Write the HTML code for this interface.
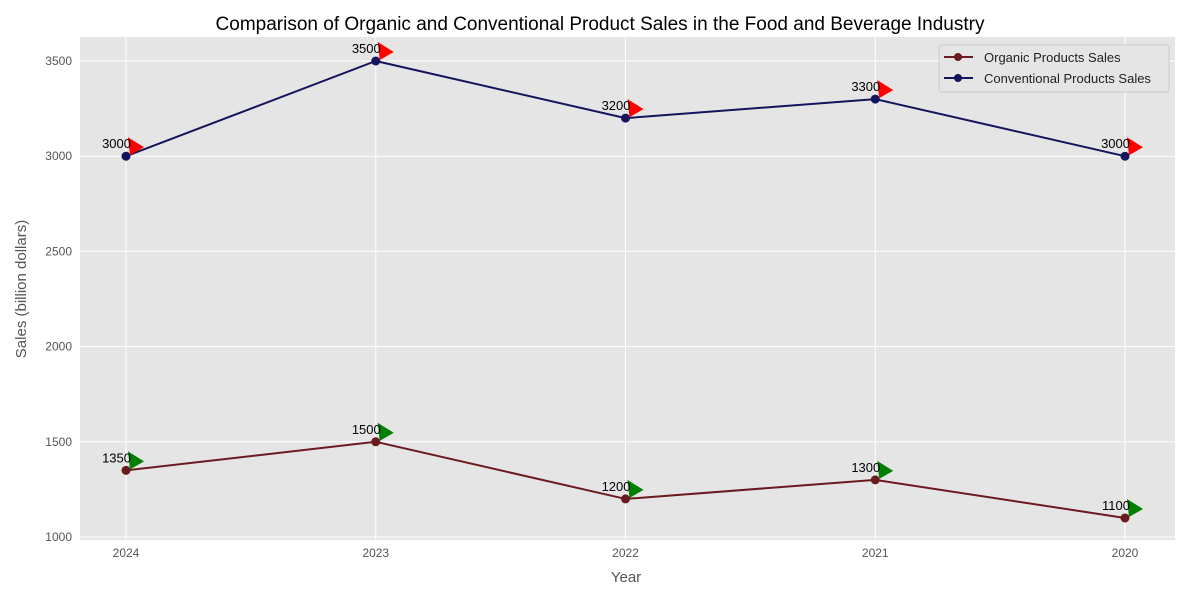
<!DOCTYPE html>
<html><head><meta charset="utf-8"><style>
body{margin:0;background:#fff}
svg text{font-family:"Liberation Sans",sans-serif}
</style></head><body>
<svg id="c" width="1200" height="600">
<rect x="0" y="0" width="1200" height="600" fill="#fff"/>
<rect x="80" y="37" width="1095" height="503" fill="#e5e5e5"/>
<g id="grid"></g><g id="marks"></g>
<text x="600" y="30" text-anchor="middle" font-size="19" fill="#000">Comparison of Organic and Conventional Product Sales in the Food and Beverage Industry</text>
<text x="626" y="582" text-anchor="middle" font-size="15" fill="#555">Year</text>
<text transform="translate(26,289) rotate(-90)" text-anchor="middle" font-size="15" fill="#555">Sales (billion dollars)</text>
<g>
<rect x="939" y="45" width="230" height="47" rx="3" fill="#e5e5e5" stroke="#ccc"/>
<g>
<line x1="944" y1="57" x2="973" y2="57" stroke="#6b1a1f" stroke-width="2"/><circle cx="958" cy="57" r="4" fill="#6b1a1f"/>
<text x="984" y="62" font-size="13" fill="#222">Organic Products Sales</text></g>
<g>
<line x1="944" y1="78" x2="973" y2="78" stroke="#14145c" stroke-width="2"/><circle cx="958" cy="78" r="4" fill="#14145c"/>
<text x="984" y="83" font-size="13" fill="#222">Conventional Products Sales</text></g>
</g>
</svg>
<script>
const years=["2024","2023","2022","2021","2020"];
const organic=[1350,1500,1200,1300,1100];
const conventional=[3000,3500,3200,3300,3000];
const yTicks=[1000,1500,2000,2500,3000,3500];
const NS="http://www.w3.org/2000/svg";
const X=i=>126+i*249.75;
const Y=v=>537-(v-1000)*(476/2500);
function mk(t,a,p){const e=document.createElementNS(NS,t);for(const k in a)e.setAttribute(k,a[k]);p.appendChild(e);return e;}
const grid=document.getElementById('grid'),marks=document.getElementById('marks');
yTicks.forEach(v=>{
 const l=mk('line',{x1:80,x2:1175,y1:Y(v),y2:Y(v),stroke:'#fff','stroke-width':1},grid);
 
 
 const t=mk('text',{x:72,y:Y(v)+4,'text-anchor':'end','font-size':12,fill:'#555'},grid);t.textContent=v;
 
 
});
years.forEach((y,i)=>{
 const l=mk('line',{x1:X(i),x2:X(i),y1:37,y2:540,stroke:'#fff','stroke-width':1},grid);
 
 
 const t=mk('text',{x:X(i),y:557,'text-anchor':'middle','font-size':12,fill:'#555'},grid);t.textContent=y;
 
 
});
function series(vals,color,arrow,name){
 const p=mk('polyline',{points:vals.map((v,i)=>X(i)+','+Y(v)).join(' '),fill:'none',stroke:color,'stroke-width':2},marks);
 
 
 vals.forEach((v,i)=>{
  const x=X(i),y=Y(v);
  const c=mk('circle',{cx:x,cy:y,r:4.5,fill:color},marks);
  
  
  const tr=mk('polygon',{points:`${x+2},${y-19} ${x+18},${y-9} ${x+4},${y-1}`,fill:arrow},marks);
  
  
  const t=mk('text',{x:x+5,y:y-8,'text-anchor':'end','font-size':13,fill:'#000'},marks);t.textContent=v;
  
  
 });
}
series(conventional,'#14145c','#ff0000','conventional');
series(organic,'#6b1a1f','#008000','organic');
</script>
</body></html>
